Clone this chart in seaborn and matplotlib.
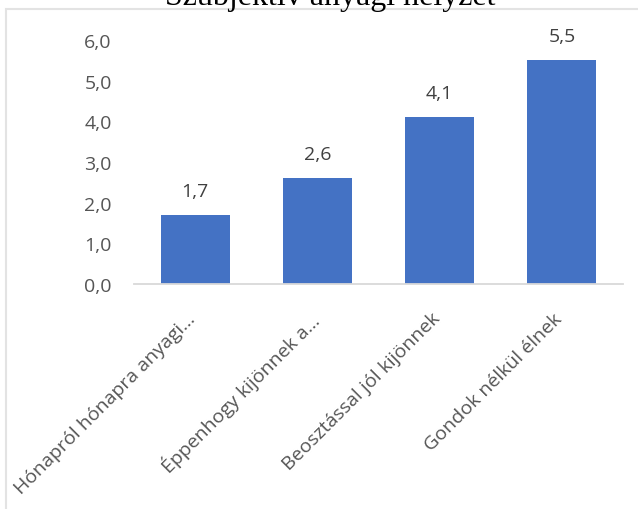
import matplotlib
matplotlib.use('Agg')
import seaborn as sns
import pandas as pd
import matplotlib.pyplot as plt
import matplotlib.transforms as mtransforms
from matplotlib.patches import Rectangle

# Chart data
categories = ['Hónapról hónapra anyagi...', 'Éppenhogy kijönnek a...',
              'Beosztással jól kijönnek', 'Gondok nélkül élnek']
values = [1.7, 2.6, 4.1, 5.5]
y_ticks = [0, 1, 2, 3, 4, 5, 6]
title = 'Szubjektív anyagi helyzet'

df = pd.DataFrame({'kategoria': categories, 'ertek': values})

sns.set_style('white')
plt.rcParams['font.family'] = ['Open Sans', 'DejaVu Sans']

W, H = 638, 510
fig = plt.figure(figsize=(W / 100, H / 100), dpi=100)
ax = fig.add_axes([134 / W, 1 - 285 / H, (623 - 134) / W, (285 - 41) / H])

sns.barplot(data=df, x='kategoria', y='ertek', color='#4472C4', saturation=1,
            width=0.565, ax=ax, edgecolor='none')

ax.set_xlim(-0.5, len(categories) - 0.5)
ax.set_ylim(0, 6)
ax.set_yticks(y_ticks)
ax.set_yticklabels([f'{t:.1f}'.replace('.', ',') for t in y_ticks])
ax.set_xlabel('')
ax.set_ylabel('')

for s in ['top', 'right', 'left']:
    ax.spines[s].set_visible(False)
ax.spines['bottom'].set_color('#d9d9d9')
ax.spines['bottom'].set_linewidth(1.3)

ax.tick_params(axis='y', length=0, pad=16, labelsize=14, labelcolor='#555555')
ax.tick_params(axis='x', length=0, pad=18, labelsize=14, labelcolor='#555555')
plt.setp(ax.get_xticklabels(), rotation=45, ha='right', va='top', rotation_mode='anchor')
shift = mtransforms.ScaledTranslation(-9 / 100, 0, fig.dpi_scale_trans)
for lab in ax.get_xticklabels():
    lab.set_transform(lab.get_transform() + shift)

ax.bar_label(ax.containers[0], labels=[f'{v:.1f}'.replace('.', ',') for v in values],
             padding=11, fontsize=14, color='#404040')

# outer chart border, cut off at the right and bottom like the reference
fig.add_artist(Rectangle((6 / W, -0.1), 1.2, 1 - 10 / H + 0.1, transform=fig.transFigure,
                         fill=False, edgecolor='#e3e3e3', lw=1.5))
fig.text(330 / W, 1 - 5 / H, title, family='Liberation Serif', fontsize=23,
         ha='center', va='baseline', color='black')

fig.savefig('out.png', dpi=100)
